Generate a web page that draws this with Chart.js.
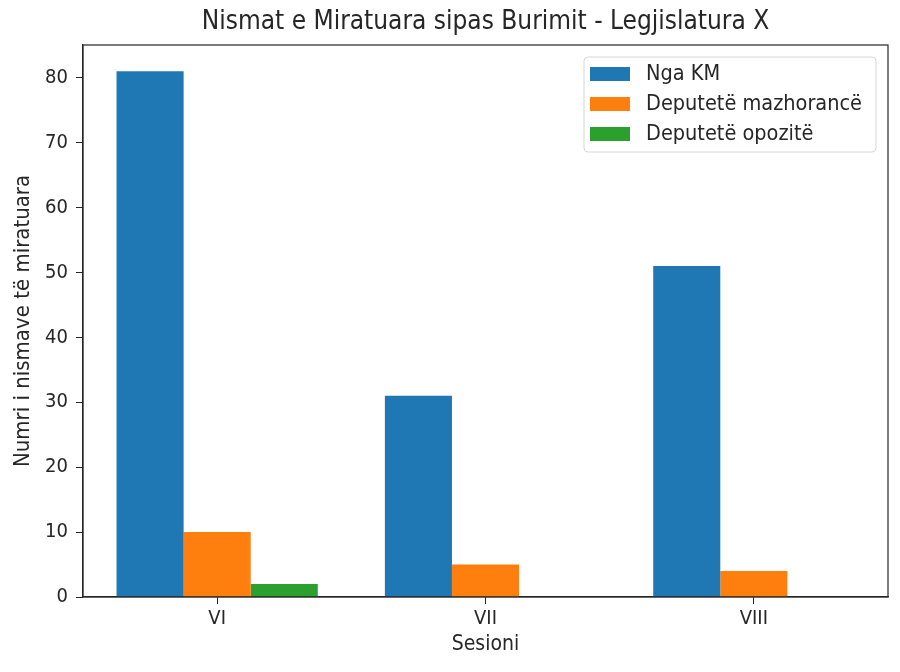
<!DOCTYPE html>
<html>
<head>
<meta charset="utf-8">
<script src="https://cdn.jsdelivr.net/npm/chart.js@4.4.1/dist/chart.umd.min.js"></script>
<style>
  html, body { margin: 0; padding: 0; background: #fff; }
  #wrap { width: 900px; height: 672px; }
</style>
</head>
<body>
<div id="wrap"><canvas id="myBarChart" width="900" height="672"></canvas></div>
<script>
// data
const sessions = ['VI', 'VII', 'VIII'];
const ngaKM = [81, 31, 51];
const mazhorance = [10, 5, 4];
const opozite = [2, 0, 0];
const seriesNames = ['Nga KM', 'Deputetë mazhorancë', 'Deputetë opozitë'];
const seriesColors = ['#1f77b4', '#ff7f0e', '#2ca02c'];

const FONT = "'DejaVu Sans Condensed', 'DejaVu Sans', sans-serif";
const INK = '#262626';

// frame around plot area + legend box, matplotlib style
const framePlugin = {
    id: 'frame',
    afterDraw(chart) {
        const ctx = chart.ctx;
        const a = chart.chartArea;
        ctx.save();
        ctx.strokeStyle = INK;
        ctx.lineWidth = 1.2;
        ctx.strokeRect(a.left, a.top, a.right - a.left, a.bottom - a.top);

        // legend
        const w = 292, h = 95;
        const x = a.right - 12 - w, y = a.top + 12;
        ctx.fillStyle = 'rgba(255,255,255,0.85)';
        ctx.strokeStyle = '#d6d6d6';
        ctx.lineWidth = 1;
        ctx.beginPath();
        ctx.roundRect(x, y, w, h, 4);
        ctx.fill();
        ctx.stroke();
        ctx.font = '21.5px ' + FONT;
        ctx.textBaseline = 'middle';
        chart.data.datasets.forEach((ds, i) => {
            const cy = y + 17 + i * 30;
            ctx.fillStyle = ds.backgroundColor;
            ctx.fillRect(x + 6, cy - 7, 40, 14);
            ctx.fillStyle = INK;
            ctx.fillText(ds.label, x + 62, cy);
        });
        ctx.restore();
    }
};

const barCtx = document.getElementById('myBarChart').getContext('2d');
const values = [ngaKM, mazhorance, opozite];

const myBarChart = new Chart(barCtx, {
    type: 'bar',
    data: {
        labels: sessions,
        datasets: values.map((v, i) => ({
            label: seriesNames[i],
            data: v,
            backgroundColor: seriesColors[i],
            borderWidth: 0,
            categoryPercentage: 0.75,
            barPercentage: 1.0
        }))
    },
    options: {
        responsive: false,
        animation: false,
        layout: { padding: { left: 0, right: 12, top: 0, bottom: 0 } },
        plugins: {
            legend: { display: false },
            tooltip: { enabled: false },
            title: {
                display: true,
                fullSize: false,
                text: 'Nismat e Miratuara sipas Burimit - Legjislatura X',
                color: INK,
                font: { family: FONT, size: 26, weight: 'normal' },
                padding: { top: 6.5, bottom: 7.3 }
            }
        },
        scales: {
            x: {
                afterFit: s => { s.height = 75; },
                grid: { offset: false, drawOnChartArea: false, drawTicks: true, tickLength: 7, color: INK },
                border: { display: true, color: INK, width: 1.2 },
                ticks: { color: INK, font: { family: FONT, size: 20 }, padding: 3 },
                title: {
                    display: true, text: 'Sesioni', color: INK,
                    font: { family: FONT, size: 21 }, padding: { top: 0, bottom: 14.5 }
                }
            },
            y: {
                min: 0,
                max: 85.05,
                afterFit: s => { s.width = 83; },
                afterBuildTicks: s => { s.ticks = s.ticks.filter(t => t.value % 10 === 0); },
                grid: { drawOnChartArea: false, drawTicks: true, tickLength: 7, color: INK },
                border: { display: true, color: INK, width: 1.2 },
                ticks: { stepSize: 10, color: INK, font: { family: FONT, size: 20 }, padding: 8 },
                title: {
                    display: true, text: 'Numri i nismave të miratuara', color: INK,
                    font: { family: FONT, size: 22 }, padding: { top: 10, bottom: 0 }
                }
            }
        }
    },
    plugins: [framePlugin]
});
</script>
</body>
</html>
